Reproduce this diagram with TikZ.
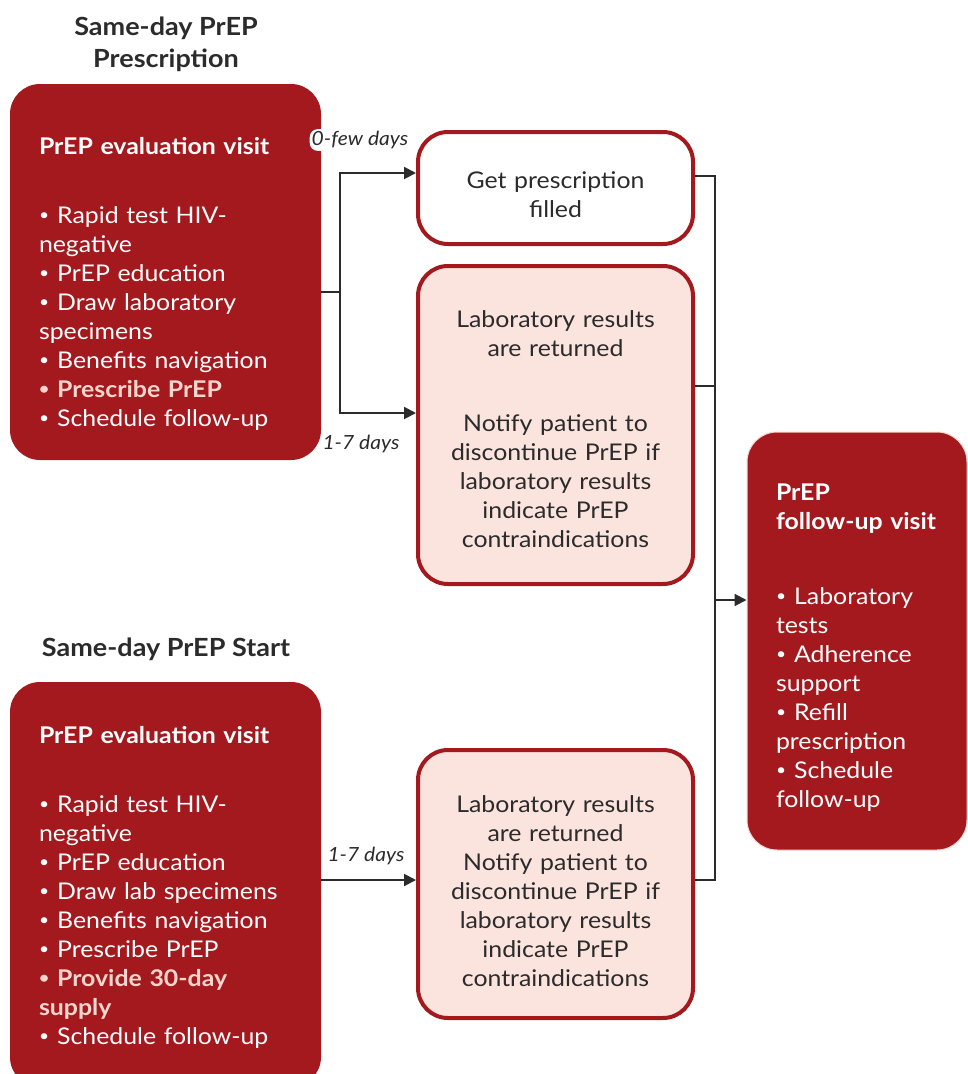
\documentclass[tikz,border=0pt]{standalone}
\usepackage{fontspec}
\setmainfont{Lato}[FakeStretch=1.08]
\usepackage{tikz}
\usetikzlibrary{arrows.meta,positioning,calc}
\definecolor{prepred}{HTML}{A3191E}
\definecolor{prepblush}{HTML}{FBE3DE}
\definecolor{preppink}{HTML}{F8D6CD}
\definecolor{inkgray}{HTML}{2B2B2B}
\newcommand{\dotitem}{\raisebox{0.12em}{\scalebox{0.7}{•}}\hspace{0.35em}}

\begin{document}
\begin{tikzpicture}[x=1pt, y=1pt,
    body/.style={font=\fontsize{23}{29}\selectfont},
    visit/.style={body, rectangle, rounded corners=30pt, fill=prepred, text=white,
        align=left, inner xsep=29pt, inner ysep=0pt},
    result/.style={body, rectangle, rounded corners=30pt, draw=prepred, line width=4pt,
        text=inkgray, align=center, inner sep=0pt, minimum width=275pt, text width=250pt},
    heading/.style={font=\fontsize{25}{32}\selectfont\bfseries, text=inkgray, align=center},
    days/.style={font=\fontsize{19.5}{22}\selectfont\itshape, text=inkgray, inner sep=2pt},
    line/.style={draw=inkgray, line width=2pt},
    arr/.style={line, -{Triangle[length=12pt, width=12pt]}}]

    \useasboundingbox (0,0) rectangle (968,-1074);

    % Titles
    \node[heading] (titlepres) at (166,-44) {Same-day PrEP\\Prescription};
    \node[heading] (titlestart) at (166,-649) {Same-day PrEP Start};

    % Evaluation visits
    \node[visit, minimum width=311pt, minimum height=376pt, text width=253pt] (evalA) at (165.5,-272)
        {\rule{0pt}{40pt}\textbf{PrEP evaluation visit}\\[40pt]
         \dotitem Rapid test HIV-\\negative\\\dotitem PrEP education\\\dotitem Draw laboratory\\specimens\\
         \dotitem Benefits navigation\\{\color{preppink}\textbf{\dotitem Prescribe PrEP}}\\\dotitem Schedule follow-up};
    \node[visit, minimum width=311pt, minimum height=405pt, text width=253pt] (evalB) at (165.5,-884.5)
        {\rule{0pt}{22pt}\textbf{PrEP evaluation visit}\\[40pt]
         \dotitem Rapid test HIV-\\negative\\\dotitem PrEP education\\\dotitem Draw lab specimens\\
         \dotitem Benefits navigation\\\dotitem Prescribe PrEP\\{\color{preppink}\textbf{\dotitem Provide 30-day}}\\
         {\color{preppink}\textbf{supply}}\\\dotitem Schedule follow-up};

    % Results
    \node[result, fill=white, minimum height=112pt] (fill) at (555.5,-188)
        {\rule{0pt}{30pt}Get prescription\\filled};
    \node[result, fill=prepblush, minimum height=318pt] (labA) at (555.5,-425)
        {\rule{0pt}{26pt}Laboratory results\\are returned\\[46pt]Notify patient to\\discontinue PrEP if\\
         laboratory results\\indicate PrEP\\contraindications};
    \node[result, fill=prepblush, minimum height=268pt] (labB) at (555.5,-884)
        {\rule{0pt}{32pt}Laboratory results\\are returned\\Notify patient to\\discontinue PrEP if\\
         laboratory results\\indicate PrEP\\contraindications};

    % Follow-up visit
    \node[visit, draw=preppink, line width=1pt, minimum width=220pt, minimum height=418pt,
          text width=162pt] (follow) at (857,-641)
        {\rule{0pt}{30pt}\textbf{PrEP}\\\mbox{\textbf{follow-up visit}}\\[46pt]
         \dotitem Laboratory\\tests\\\dotitem Adherence\\support\\\dotitem Refill\\prescription\\
         \dotitem Schedule\\\mbox{follow-up}};

    % Arrows
    \coordinate (split) at (340,-292);
    \coordinate (merge) at (715,-600);
    \draw[line] (evalA.east |- split) -- (split);
    \draw[arr] (split) |- ([yshift=15pt]fill.west);
    \draw[arr] (split) |- ([yshift=12pt]labA.west);
    \draw[line] ([yshift=12pt]fill.east) -| (merge);
    \draw[line] ([yshift=39pt]labA.east) -| (merge);
    \draw[line] ([yshift=4pt]labB.east) -| (merge);
    \draw[arr] (merge) -- (follow.west |- merge);
    \draw[arr] ([yshift=4.5pt]evalB.east) -- ([yshift=4pt]labB.west);

    % Delays
    \node[days, fill=white, rounded corners=8pt] (fewdays) at (360,-140) {0-few days};
    \node[days] (weekA) at (361,-444) {1-7 days};
    \node[days] (weekB) at (366,-856) {1-7 days};
\end{tikzpicture}
\end{document}
